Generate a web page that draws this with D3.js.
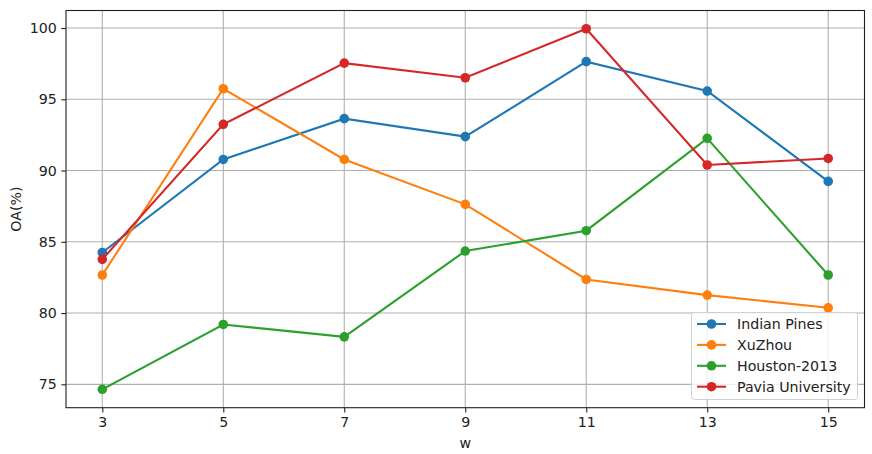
<!DOCTYPE html>
<html>
<head>
<meta charset="utf-8">
<script src="https://cdn.jsdelivr.net/npm/d3@7"></script>
<style>
  body { margin: 0; background: #fff; }
  text { font-family: "DejaVu Sans", sans-serif; }
</style>
</head>
<body>
<div id="chart"></div>
<script>
// data
var wValues = [3, 5, 7, 9, 11, 13, 15];
var seriesNames = ["Indian Pines", "XuZhou", "Houston-2013", "Pavia University"];
var indianPines = [84.25, 90.78, 93.64, 92.38, 97.64, 95.58, 89.24];
var xuZhou = [82.67, 95.74, 90.78, 87.63, 82.36, 81.26, 80.37];
var houston2013 = [74.65, 79.2, 78.33, 84.35, 85.78, 92.26, 82.67];
var paviaUniversity = [83.77, 93.24, 97.54, 96.51, 99.95, 90.39, 90.85];
var yTicks = [75, 80, 85, 90, 95, 100];

var palette = ["#1f77b4", "#ff7f0e", "#2ca02c", "#d62728"];
var allSeries = [indianPines, xuZhou, houston2013, paviaUniversity];

var fontSize = 14.2;
var width = 872, height = 454;
var margin = {left: 66, right: 7.5, top: 10.5, bottom: 46.3};

var svg = d3.select("#chart").append("svg")
    .attr("width", width)
    .attr("height", height);

var x = d3.scaleLinear().domain([2.4, 15.6]).range([margin.left, width - margin.right]);
var y = d3.scaleLinear().domain([73.36, 101.23]).range([height - margin.bottom, margin.top]);

var chartGroup = svg.append("g");

// grid
chartGroup.append("g").selectAll("line")
    .data(wValues).enter()
    .append("line")
        .attr("x1", function(d){ return x(d);})
        .attr("x2", function(d){ return x(d);})
        .attr("y1", margin.top)
        .attr("y2", height - margin.bottom)
        .attr("stroke", "#b0b0b0")
        .attr("stroke-width", 1.1);
chartGroup.append("g").selectAll("line")
    .data(yTicks).enter()
    .append("line")
        .attr("x1", margin.left)
        .attr("x2", width - margin.right)
        .attr("y1", function(d){ return y(d);})
        .attr("y2", function(d){ return y(d);})
        .attr("stroke", "#b0b0b0")
        .attr("stroke-width", 1.1);

// axes
var xAxis = chartGroup.append("g")
    .attr("transform", "translate(0," + (height - margin.bottom) + ")")
    .call(d3.axisBottom(x).tickValues(wValues).tickSize(4.7).tickPadding(4.5));
var yAxis = chartGroup.append("g")
    .attr("transform", "translate(" + margin.left + ",0)")
    .call(d3.axisLeft(y).tickValues(yTicks).tickSize(4.7).tickPadding(4.5));

[xAxis, yAxis].forEach(function(a){
    a.select(".domain").remove();
    a.selectAll(".tick line").attr("stroke", "#222").attr("stroke-width", 1.1);
    a.selectAll(".tick text").attr("font-size", fontSize).attr("fill", "#222")
        .attr("font-family", "DejaVu Sans, sans-serif");
});

// frame
chartGroup.append("rect")
    .attr("x", margin.left)
    .attr("y", margin.top)
    .attr("width", width - margin.left - margin.right)
    .attr("height", height - margin.top - margin.bottom)
    .attr("fill", "none")
    .attr("stroke", "#222")
    .attr("stroke-width", 1.1);

// lines
var line = d3.line()
    .x(function(d, i){ return x(wValues[i]);})
    .y(function(d){ return y(d);});

allSeries.forEach(function(s, k){
    var g = chartGroup.append("g");
    g.append("path")
        .attr("d", line(s))
        .attr("fill", "none")
        .attr("stroke", palette[k])
        .attr("stroke-width", 2.1);
    g.selectAll("circle")
        .data(s).enter()
        .append("circle")
            .attr("cx", function(d, i){ return x(wValues[i]);})
            .attr("cy", function(d){ return y(d);})
            .attr("r", 4.8)
            .attr("fill", palette[k]);
});

// axis labels
svg.append("text")
    .text("w")
    .attr("x", (margin.left + width - margin.right) / 2)
    .attr("y", 447.5)
    .attr("text-anchor", "middle")
    .attr("font-size", fontSize)
    .attr("fill", "#222");
svg.append("text")
    .text("OA(%)")
    .attr("transform", "translate(21," + ((margin.top + height - margin.bottom) / 2) + ") rotate(-90)")
    .attr("text-anchor", "middle")
    .attr("font-size", fontSize)
    .attr("fill", "#222");

// legend
var legend = svg.append("g").attr("transform", "translate(691.5,312.5)");
legend.append("rect")
    .attr("width", 166)
    .attr("height", 87)
    .attr("rx", 3)
    .attr("ry", 3)
    .attr("fill", "#fff")
    .attr("fill-opacity", 0.8)
    .attr("stroke", "#d0d0d0")
    .attr("stroke-width", 1);
seriesNames.forEach(function(name, k){
    var row = legend.append("g").attr("transform", "translate(0," + (11.5 + k * 20.9) + ")");
    row.append("line")
        .attr("x1", 5.5).attr("x2", 34.5)
        .attr("y1", 0).attr("y2", 0)
        .attr("stroke", palette[k])
        .attr("stroke-width", 2.1);
    row.append("circle")
        .attr("cx", 20).attr("cy", 0).attr("r", 4.8)
        .attr("fill", palette[k]);
    row.append("text")
        .text(name)
        .attr("x", 45.5)
        .attr("y", 0)
        .attr("dy", "0.35em")
        .attr("font-size", fontSize)
        .attr("fill", "#222");
});
</script>
</body>
</html>
